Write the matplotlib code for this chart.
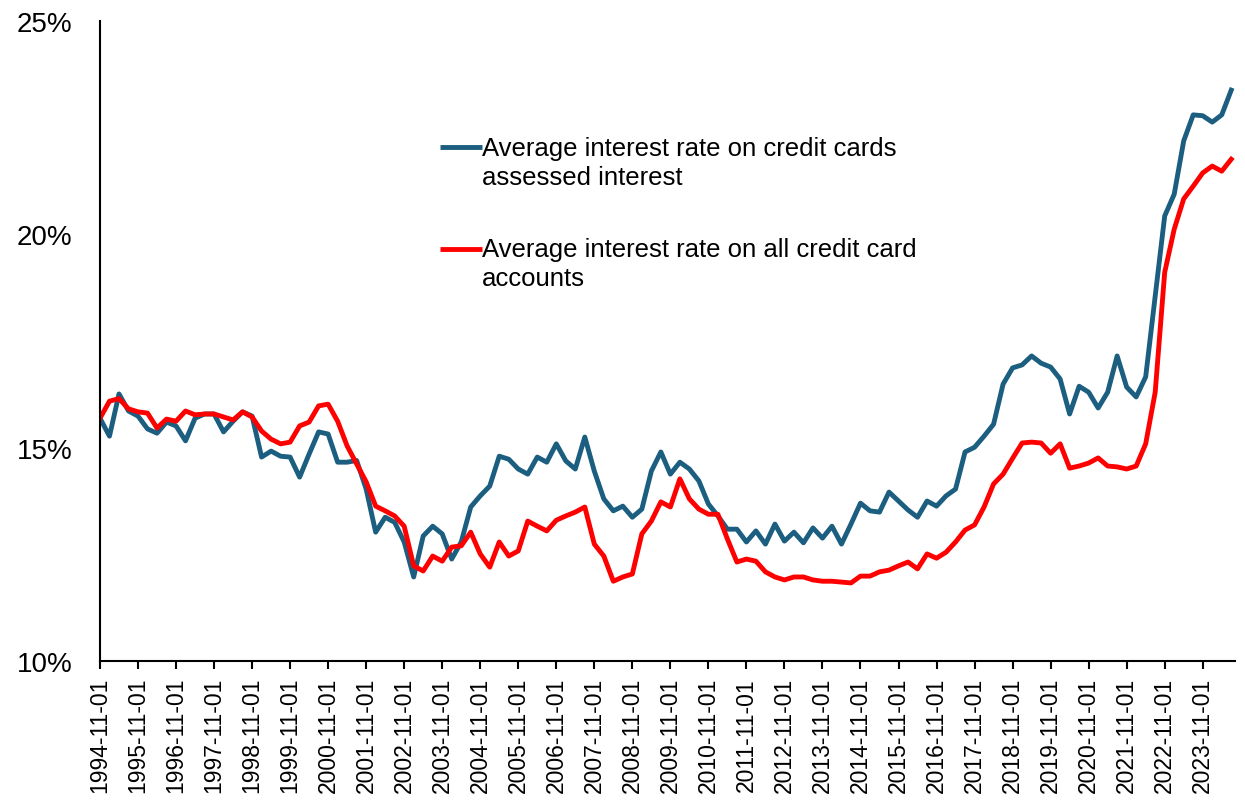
import matplotlib.pyplot as plt
import pandas as pd

plt.rcParams['font.family'] = ['Liberation Sans', 'DejaVu Sans']

# quarterly observations, Nov 1994 .. Aug 2024
dates = pd.date_range('1994-11-01', periods=120, freq='QS-NOV')

# average rate on accounts assessed interest (%)
assessed = [
    15.69, 15.27, 16.26, 15.86, 15.74, 15.44, 15.34, 15.60, 15.51, 15.16,
    15.69, 15.79, 15.79, 15.37, 15.62, 15.84, 15.74, 14.78, 14.92, 14.80,
    14.78, 14.31, 14.85, 15.37, 15.32, 14.66, 14.66, 14.70, 14.03, 13.02,
    13.37, 13.25, 12.79, 11.97, 12.93, 13.16, 12.98, 12.39, 12.79, 13.61,
    13.87, 14.10, 14.80, 14.73, 14.50, 14.38, 14.78, 14.66, 15.09, 14.69,
    14.50, 15.25, 14.45, 13.80, 13.52, 13.63, 13.37, 13.56, 14.45, 14.90,
    14.38, 14.66, 14.50, 14.22, 13.68, 13.40, 13.09, 13.09, 12.79, 13.05,
    12.74, 13.21, 12.81, 13.02, 12.77, 13.12, 12.88, 13.16, 12.74, 13.21,
    13.70, 13.52, 13.49, 13.96, 13.75, 13.54, 13.37, 13.75, 13.63, 13.87,
    14.03, 14.90, 15.01, 15.27, 15.55, 16.49, 16.87, 16.94, 17.15, 16.98,
    16.89, 16.61, 15.79, 16.44, 16.30, 15.93, 16.30, 17.15, 16.42, 16.19,
    16.66, 18.55, 20.43, 20.94, 22.19, 22.80, 22.78, 22.63, 22.80, 23.38,
]

# average rate on all accounts (%)
all_accounts = [
    15.69, 16.09, 16.15, 15.91, 15.84, 15.81, 15.46, 15.67, 15.62, 15.86,
    15.77, 15.79, 15.79, 15.72, 15.65, 15.84, 15.72, 15.39, 15.20, 15.09,
    15.13, 15.51, 15.60, 15.98, 16.02, 15.62, 15.04, 14.62, 14.20, 13.63,
    13.52, 13.40, 13.16, 12.23, 12.11, 12.46, 12.34, 12.67, 12.70, 13.02,
    12.51, 12.20, 12.79, 12.46, 12.58, 13.28, 13.16, 13.05, 13.30, 13.40,
    13.49, 13.61, 12.74, 12.46, 11.87, 11.97, 12.04, 12.98, 13.28, 13.73,
    13.61, 14.27, 13.80, 13.56, 13.44, 13.44, 12.86, 12.32, 12.39, 12.34,
    12.09, 11.97, 11.90, 11.97, 11.97, 11.90, 11.87, 11.87, 11.85, 11.83,
    11.99, 11.99, 12.09, 12.13, 12.23, 12.32, 12.16, 12.51, 12.41, 12.55,
    12.79, 13.07, 13.19, 13.61, 14.15, 14.38, 14.75, 15.11, 15.13, 15.11,
    14.87, 15.09, 14.52, 14.57, 14.64, 14.76, 14.57, 14.55, 14.50, 14.57,
    15.09, 16.30, 19.11, 20.12, 20.83, 21.13, 21.44, 21.60, 21.48, 21.76,
]

series_names = ['Average interest rate on credit cards\nassessed interest',
                'Average interest rate on all credit card\naccounts']
series_colors = ['#1b5e80', '#ff0000']
y_ticks = [10, 15, 20, 25]

fig = plt.figure(figsize=(12.45, 8.12), dpi=100)
ax = fig.add_axes([0.0803, 0.1847, 0.9117, 0.7882])

x = list(range(len(dates)))
ax.plot(x, assessed, color=series_colors[0], lw=3.5)
ax.plot(x, all_accounts, color=series_colors[1], lw=3.5)

ax.set_xlim(0, 119.4)
ax.set_ylim(10, 25)

ax.set_yticks(y_ticks)
ax.set_yticklabels([f'{t}%' for t in y_ticks])
ax.tick_params(axis='y', length=0, pad=20, labelsize=20)

ax.set_xticks(x[::4])
ax.set_xticklabels(dates[::4].strftime('%Y-%m-%d'), rotation=90)
ax.tick_params(axis='x', length=5.5, width=1.5, pad=6, labelsize=16.5)

for side in ['top', 'right']:
    ax.spines[side].set_visible(False)
for side in ['left', 'bottom']:
    ax.spines[side].set_linewidth(1.5)

# legend drawn by hand so the key sits on the first text line
legend_y = [0.803, 0.644]
for name, color, ly in zip(series_names, series_colors, legend_y):
    ax.plot([0.2996, 0.3366], [ly, ly], transform=ax.transAxes,
            color=color, lw=3.5, solid_capstyle='butt')
    ax.text(0.3366, ly - 0.0235, name, transform=ax.transAxes, ha='left',
            va='center', fontsize=18.5, linespacing=1.27)

fig.savefig('out.png', dpi=100)
